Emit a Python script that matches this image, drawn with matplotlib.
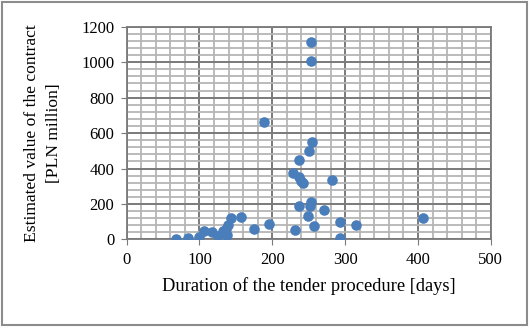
import matplotlib
matplotlib.use('Agg')
import matplotlib.pyplot as plt
from matplotlib.patches import Rectangle
from matplotlib.ticker import MultipleLocator

# Duration of tender procedure [days] vs estimated contract value [PLN million]
days = [252.8, 252.8, 188.8, 254.2, 250, 237.3, 228.5, 236.3, 240, 242.8,
        282.6, 253.7, 252.4, 236.3, 271.6, 249.1, 257.3, 230.9, 292.6, 293.5,
        315, 406.5, 194.8, 174.6, 156.8, 143, 139.4, 136.2, 137.2, 131.7,
        124.8, 116.6, 105.6, 99.2, 83.7, 67.2]
value = [1113, 1006, 660, 549, 498, 447, 376, 353, 331, 316,
         333, 212, 188, 186, 164, 131, 75, 51, 98, 9,
         81, 118, 86, 56, 126, 118, 81, 56, 23, 47,
         19, 39, 49, 13, 6, 4]

plt.rcParams['font.family'] = 'Liberation Serif'

fig = plt.figure(figsize=(5.3, 3.27), dpi=100)
ax = fig.add_axes([0.239, 0.268, 0.687, 0.650])

ax.scatter(days, value, s=58, color='#4A7EBB', zorder=3, linewidths=0)

ax.set_xlim(0, 500)
ax.set_ylim(0, 1200)
ax.xaxis.set_major_locator(MultipleLocator(100))
ax.xaxis.set_minor_locator(MultipleLocator(20))
ax.yaxis.set_major_locator(MultipleLocator(200))
ax.yaxis.set_minor_locator(MultipleLocator(40))
ax.grid(which='major', color='#7A7A7A', linewidth=1.4)
ax.grid(which='minor', color='#B5B5B5', linewidth=1.3)
ax.set_axisbelow(True)
for s in ax.spines.values():
    s.set_color('#7A7A7A')
    s.set_linewidth(1.3)
ax.tick_params(which='major', length=4, color='#7A7A7A', labelsize=12, pad=5)
ax.tick_params(which='minor', length=0)

ax.set_xlabel('Duration of the tender procedure [days]', fontsize=13.3, labelpad=7)
ax.set_ylabel('Estimated value of the contract\n[PLN million]', fontsize=12.6,
              labelpad=14, linespacing=1.5)

fig.patches.append(Rectangle((0.004, 0.006), 0.99, 0.988, transform=fig.transFigure,
                             fill=False, edgecolor='#8C8C8C', linewidth=1.5))

fig.savefig('out.png', dpi=100)
